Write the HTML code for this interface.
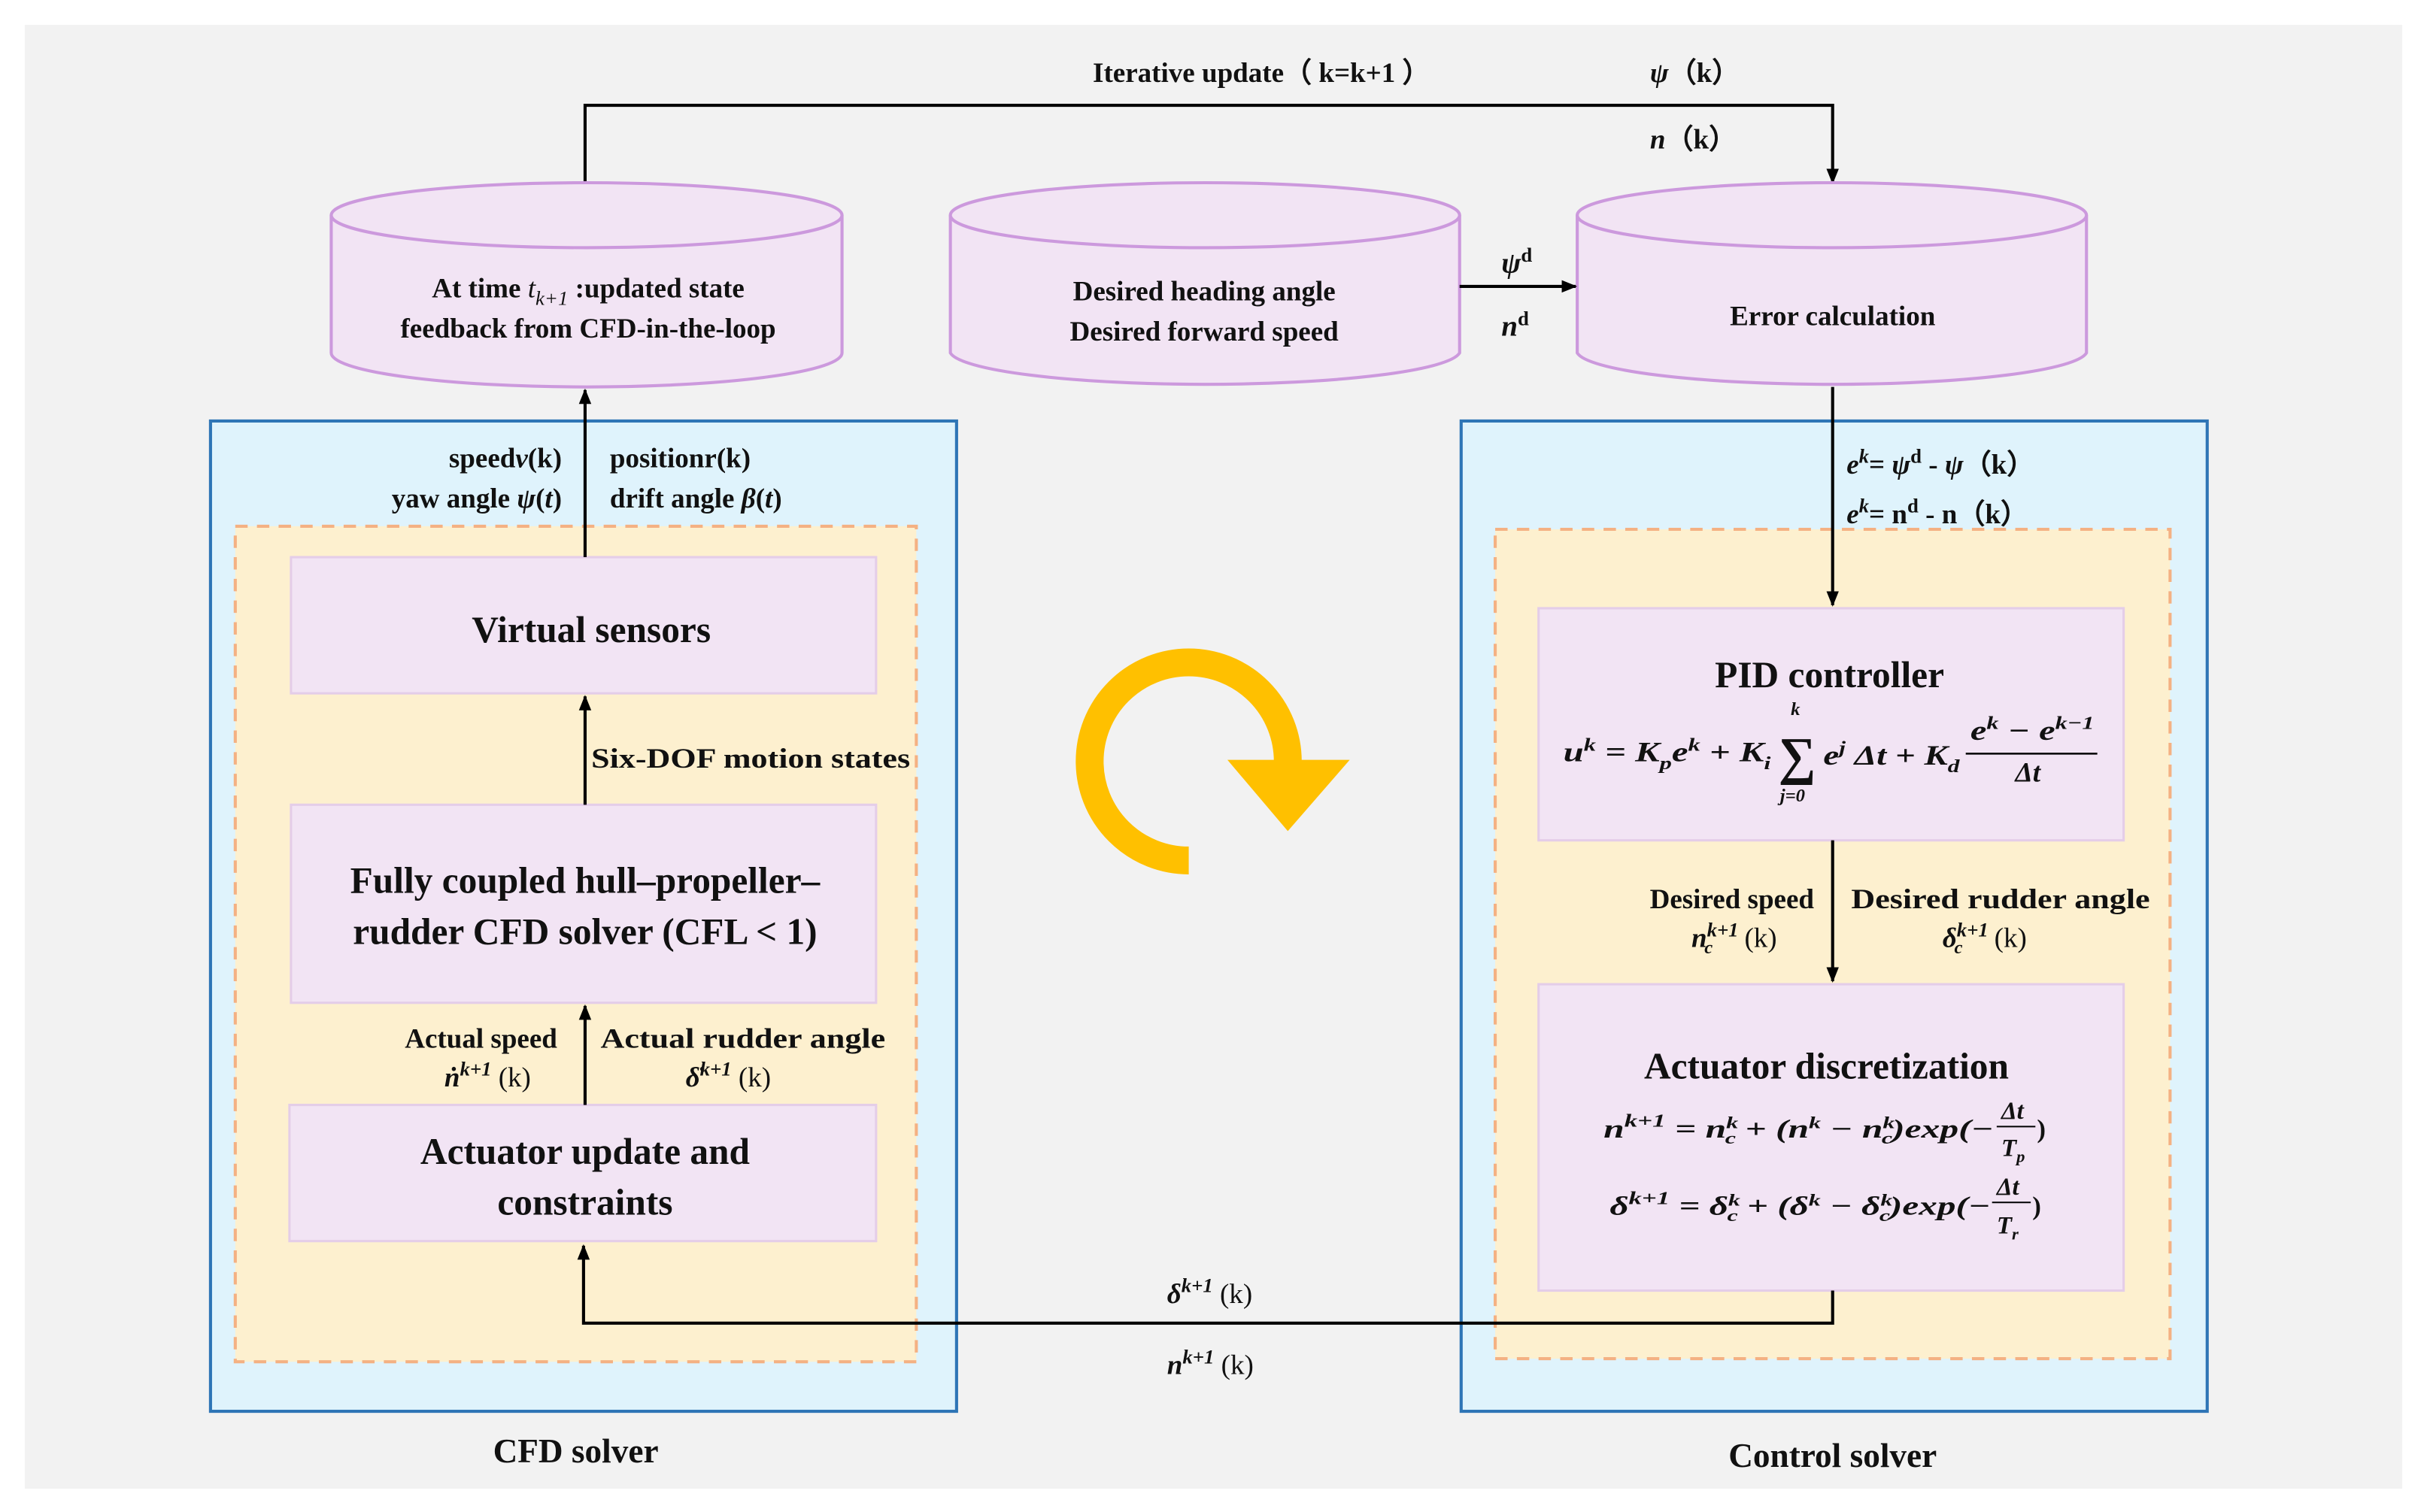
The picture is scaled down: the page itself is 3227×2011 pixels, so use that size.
<!DOCTYPE html>
<html><head><meta charset="utf-8"><style>
html,body{margin:0;padding:0;background:#fff;}
svg{display:block;}
text{font-family:"Liberation Serif",serif;font-weight:bold;fill:#111;}
.i{font-style:italic;}
</style></head><body>
<svg width="3227" height="2011" viewBox="0 0 1568 977" xmlns="http://www.w3.org/2000/svg" font-family="Liberation Serif, serif">
<defs>
<marker id="a" markerWidth="10" markerHeight="10" refX="9" refY="5" orient="auto" markerUnits="userSpaceOnUse"><path d="M0,1 L10,5 L0,9 Z" fill="#000"/></marker>
</defs>
<rect x="16" y="16" width="1536" height="946" fill="#f2f2f2"/>

<polyline points="378,120 378,68 1184,68 1184,118" fill="none" stroke="#000" stroke-width="2" marker-end="url(#a)"/>
<text x="815" y="53" font-size="18" text-anchor="middle">Iterative update（ k=k+1 ）</text>
<text x="1066" y="53" font-size="18"><tspan class="i">ψ</tspan>（k）</text>
<text x="1066" y="96" font-size="18"><tspan class="i">n</tspan>（k）</text>

<g fill="#f2e4f4" stroke="#cc99dd" stroke-width="2">
<path d="M214,139 L214,228 A165,22 0 0 0 544,228 L544,139"/>
<ellipse cx="379" cy="139" rx="165" ry="21"/>
<path d="M614,139 L614,228 A165,22 0 0 0 943,228 L943,139"/>
<ellipse cx="778.5" cy="139" rx="164.5" ry="21"/>
<path d="M1019,139 L1019,228 A165,22 0 0 0 1348,228 L1348,139"/>
<ellipse cx="1183.5" cy="139" rx="164.5" ry="21"/>
</g>
<text x="380" y="192" font-size="18" text-anchor="middle">At time <tspan class="i" font-weight="normal">t</tspan><tspan class="i" font-weight="normal" font-size="13" dy="5">k+1</tspan><tspan dy="-5"> :updated state</tspan></text>
<text x="380" y="218" font-size="18" text-anchor="middle">feedback from CFD-in-the-loop</text>
<text x="778" y="194" font-size="18" text-anchor="middle">Desired heading angle</text>
<text x="778" y="220" font-size="18" text-anchor="middle">Desired forward speed</text>
<text x="1184" y="210" font-size="18" text-anchor="middle">Error calculation</text>

<line x1="943" y1="185" x2="1018" y2="185" stroke="#000" stroke-width="2" marker-end="url(#a)"/>
<text x="970" y="176" font-size="19"><tspan class="i">ψ</tspan><tspan font-size="13" dy="-7">d</tspan></text>
<text x="970" y="217" font-size="19"><tspan class="i">n</tspan><tspan font-size="13" dy="-7">d</tspan></text>

<rect x="136" y="272" width="482" height="640" fill="#dff3fc" stroke="#2e75b6" stroke-width="2"/>
<rect x="152" y="340" width="440" height="540" fill="#fdf0cf" stroke="#f4b183" stroke-width="2" stroke-dasharray="8,6"/>
<g fill="#f2e4f4" stroke="#e4cde8" stroke-width="1.5">
<rect x="188" y="360" width="378" height="88"/>
<rect x="188" y="520" width="378" height="128"/>
<rect x="187" y="714" width="379" height="88"/>
</g>
<text x="382" y="415" font-size="24" text-anchor="middle">Virtual sensors</text>
<text x="378" y="577" font-size="24" text-anchor="middle">Fully coupled hull–propeller–</text>
<text x="378" y="610" font-size="24" text-anchor="middle">rudder CFD solver (CFL &lt; 1)</text>
<text x="378" y="752" font-size="24" text-anchor="middle">Actuator update and</text>
<text x="378" y="785" font-size="24" text-anchor="middle">constraints</text>

<line x1="378" y1="360" x2="378" y2="252" stroke="#000" stroke-width="2" marker-end="url(#a)"/>
<line x1="378" y1="520" x2="378" y2="450" stroke="#000" stroke-width="2" marker-end="url(#a)"/>
<line x1="378" y1="714" x2="378" y2="650" stroke="#000" stroke-width="2" marker-end="url(#a)"/>

<text x="363" y="302" font-size="18" text-anchor="end">speed<tspan class="i">v</tspan>(k)</text>
<text x="363" y="328" font-size="18" text-anchor="end">yaw angle <tspan class="i">ψ</tspan>(<tspan class="i">t</tspan>)</text>
<text x="394" y="302" font-size="18">positionr(k)</text>
<text x="394" y="328" font-size="18">drift angle <tspan class="i">β</tspan>(<tspan class="i">t</tspan>)</text>
<text x="382" y="496" font-size="18" textLength="206" lengthAdjust="spacingAndGlyphs">Six-DOF motion states</text>
<text x="360" y="677" font-size="18" text-anchor="end">Actual speed</text>
<text x="343" y="702" font-size="18" text-anchor="end"><tspan class="i">ṅ</tspan><tspan class="i" font-size="13" dy="-7">k+1</tspan><tspan dy="7" font-weight="normal"> (k)</tspan></text>
<text x="388" y="677" font-size="18" textLength="184" lengthAdjust="spacingAndGlyphs">Actual rudder angle</text>
<text x="443" y="702" font-size="18"><tspan class="i">δ̇</tspan><tspan class="i" font-size="13" dy="-7">k+1</tspan><tspan dy="7" font-weight="normal"> (k)</tspan></text>

<rect x="944" y="272" width="482" height="640" fill="#dff3fc" stroke="#2e75b6" stroke-width="2"/>
<rect x="966" y="342" width="436" height="536" fill="#fdf0cf" stroke="#f4b183" stroke-width="2" stroke-dasharray="8,6"/>
<g fill="#f2e4f4" stroke="#e4cde8" stroke-width="1.5">
<rect x="994" y="393" width="378" height="150"/>
<rect x="994" y="636" width="378" height="198"/>
</g>
<line x1="1184" y1="250" x2="1184" y2="391" stroke="#000" stroke-width="2" marker-end="url(#a)"/>
<line x1="1184" y1="543" x2="1184" y2="634" stroke="#000" stroke-width="2" marker-end="url(#a)"/>
<text x="1193" y="306" font-size="18"><tspan class="i">e</tspan><tspan class="i" font-size="13" dy="-7">k</tspan><tspan dy="7">= </tspan><tspan class="i">ψ</tspan><tspan font-size="13" dy="-7">d</tspan><tspan dy="7"> - </tspan><tspan class="i">ψ</tspan>（k）</text>
<text x="1193" y="338" font-size="18"><tspan class="i">e</tspan><tspan class="i" font-size="13" dy="-7">k</tspan><tspan dy="7">= n</tspan><tspan font-size="13" dy="-7">d</tspan><tspan dy="7"> - n（k）</tspan></text>

<text x="1182" y="444" font-size="24" text-anchor="middle">PID controller</text>
<text x="1010" y="492" font-size="18" class="i" textLength="134" lengthAdjust="spacingAndGlyphs">u<tspan font-size="12" dy="-7">k</tspan><tspan dy="7"> = K</tspan><tspan font-size="12" dy="5">p</tspan><tspan dy="-5">e</tspan><tspan font-size="12" dy="-7">k</tspan><tspan dy="7"> + K</tspan><tspan font-size="12" dy="5">i</tspan></text>
<text x="1149" y="500" font-size="34" font-weight="normal">∑</text>
<text x="1157" y="462" font-size="12" class="i">k</text>
<text x="1150" y="518" font-size="12" class="i">j=0</text>
<text x="1178" y="494" font-size="18" class="i" textLength="88" lengthAdjust="spacingAndGlyphs">e<tspan font-size="12" dy="-7">j</tspan><tspan dy="7"> Δt + K</tspan><tspan font-size="12" dy="5">d</tspan></text>
<text x="1273" y="478" font-size="18" class="i" textLength="80" lengthAdjust="spacingAndGlyphs">e<tspan font-size="12" dy="-7">k</tspan><tspan dy="7"> − e</tspan><tspan font-size="12" dy="-7">k−1</tspan></text>
<text x="1302" y="505" font-size="18" class="i">Δt</text>
<line x1="1270" y1="487" x2="1355" y2="487" stroke="#000" stroke-width="1.2"/>

<text x="1172" y="587" font-size="18" text-anchor="end">Desired speed</text>
<text x="1148" y="612" font-size="18" text-anchor="end"><tspan class="i">n</tspan><tspan class="i" font-size="13" dy="-7">k+1</tspan><tspan class="i" font-size="12" dx="-22" dy="11">c</tspan><tspan dx="16" dy="-4" font-weight="normal"> (k)</tspan></text>
<text x="1196" y="587" font-size="18" textLength="193" lengthAdjust="spacingAndGlyphs">Desired rudder angle</text>
<text x="1255" y="612" font-size="18"><tspan class="i">δ</tspan><tspan class="i" font-size="13" dy="-7">k+1</tspan><tspan class="i" font-size="12" dx="-22" dy="11">c</tspan><tspan dx="16" dy="-4" font-weight="normal"> (k)</tspan></text>

<text x="1180" y="697" font-size="24" text-anchor="middle">Actuator discretization</text>
<text x="1036" y="735" font-size="17" class="i" textLength="252" lengthAdjust="spacingAndGlyphs">n<tspan font-size="12" dy="-7">k+1</tspan><tspan dy="7"> = n</tspan><tspan font-size="11" dy="-6">k</tspan><tspan font-size="11" dx="-6" dy="10">c</tspan><tspan dy="-4"> + (n</tspan><tspan font-size="11" dy="-6">k</tspan><tspan dy="6"> − n</tspan><tspan font-size="11" dy="-6">k</tspan><tspan font-size="11" dx="-6" dy="10">c</tspan><tspan dy="-4">)exp(−</tspan></text>
<text x="1293" y="723" font-size="16" class="i">Δt</text>
<line x1="1290" y1="728" x2="1315" y2="728" stroke="#000" stroke-width="1"/>
<text x="1293" y="747" font-size="16" class="i">T<tspan font-size="11" dy="4">p</tspan></text>
<text x="1316" y="735" font-size="17">)</text>
<text x="1040" y="785" font-size="17" class="i" textLength="246" lengthAdjust="spacingAndGlyphs">δ<tspan font-size="12" dy="-7">k+1</tspan><tspan dy="7"> = δ</tspan><tspan font-size="11" dy="-6">k</tspan><tspan font-size="11" dx="-6" dy="10">c</tspan><tspan dy="-4"> + (δ</tspan><tspan font-size="11" dy="-6">k</tspan><tspan dy="6"> − δ</tspan><tspan font-size="11" dy="-6">k</tspan><tspan font-size="11" dx="-6" dy="10">c</tspan><tspan dy="-4">)exp(−</tspan></text>
<text x="1290" y="772" font-size="16" class="i">Δt</text>
<line x1="1287" y1="777" x2="1312" y2="777" stroke="#000" stroke-width="1"/>
<text x="1290" y="797" font-size="16" class="i">T<tspan font-size="11" dy="4">r</tspan></text>
<text x="1313" y="785" font-size="17">)</text>

<polyline points="1184,834 1184,855 377,855 377,805" fill="none" stroke="#000" stroke-width="2" marker-end="url(#a)"/>
<text x="754" y="842" font-size="18"><tspan class="i">δ</tspan><tspan class="i" font-size="13" dy="-7">k+1</tspan><tspan dy="7" font-weight="normal"> (k)</tspan></text>
<text x="754" y="888" font-size="18"><tspan class="i">n</tspan><tspan class="i" font-size="13" dy="-7">k+1</tspan><tspan dy="7" font-weight="normal"> (k)</tspan></text>

<path d="M768,556 A64,64 0 1 1 832,492" fill="none" stroke="#ffc000" stroke-width="18"/>
<polygon points="793,491 872,491 832,537" fill="#ffc000"/>

<text x="372" y="945" font-size="22" text-anchor="middle">CFD solver</text>
<text x="1184" y="948" font-size="22" text-anchor="middle">Control solver</text>
</svg>
</body></html>
